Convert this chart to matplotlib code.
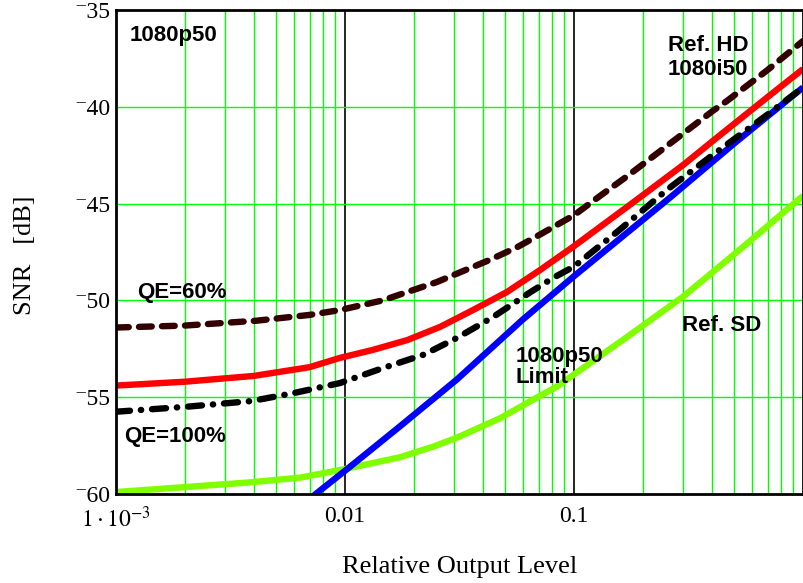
import numpy as np
import matplotlib.pyplot as plt

plt.rcParams['mathtext.fontset'] = 'stix'

# ---------------- data ----------------
hd_x = [0.001, 0.002, 0.0041, 0.007, 0.0095, 0.0146, 0.0252, 0.043, 0.0565, 0.071, 0.1, 0.13, 0.17,
        0.237, 0.405, 0.465, 0.70, 1.0]
hd_y = [-51.4, -51.3, -51.05, -50.75, -50.5, -50.0, -49.05, -47.9, -47.25, -46.6, -45.6, -44.6, -43.6,
        -42.3, -40.2, -39.7, -38.1, -36.6]

qe60_x = [0.001, 0.002, 0.004, 0.007, 0.0095, 0.0132, 0.0187, 0.026, 0.0362, 0.0509, 0.0711, 0.1,
          0.188, 0.3, 0.42, 0.7, 1.0]
qe60_y = [-54.4, -54.2, -53.9, -53.45, -52.97, -52.56, -52.05, -51.37, -50.5, -49.57, -48.43, -47.2,
          -44.8, -43.0, -41.6, -39.5, -38.05]

qe100_x = [0.001, 0.002, 0.0039, 0.0059, 0.0095, 0.0146, 0.0221, 0.0308, 0.0443, 0.064, 0.081, 0.1,
           0.158, 0.254, 0.392, 0.49, 0.70, 1.0]
qe100_y = [-55.75, -55.5, -55.2, -54.8, -54.27, -53.5, -52.8, -51.94, -50.86, -49.6, -48.84, -48.25,
           -46.36, -44.3, -42.6, -41.75, -40.4, -39.0]

lim_x = [0.0065, 0.00754, 0.0105, 0.0174, 0.0307, 0.0596, 0.1, 0.262, 0.5, 1.0]
lim_y = [-60.6, -59.95, -58.6, -56.5, -54.1, -51.0, -48.75, -44.7, -41.9, -39.0]

sd_x = [0.001, 0.00385, 0.0064, 0.0098, 0.0174, 0.0242, 0.0307, 0.0475, 0.066, 0.084, 0.17, 0.30,
        0.547, 1.0]
sd_y = [-59.9, -59.4, -59.15, -58.73, -58.1, -57.56, -57.1, -56.09, -55.14, -54.46, -51.9, -49.8,
        -47.24, -44.6]

y_ticks = [-60, -55, -50, -45, -40, -35]
x_ticks = [0.001, 0.01, 0.1]
x_tick_labels = [r'$1\cdot10^{-3}$', '0.01', '0.1']

# ---------------- drawing ----------------
fig = plt.figure(figsize=(8.04, 5.83), dpi=100)
ax = fig.add_axes([116 / 804, 1 - 494 / 583, 687 / 804, 484 / 583])
ax.set_xscale('log')
ax.set_xlim(1e-3, 1)
ax.set_ylim(-60, -35)

# grid: green minors, black decades
for dec in [1e-3, 1e-2, 1e-1]:
    for m in range(2, 10):
        ax.axvline(dec * m, color='#00ff00', lw=1.0, zorder=1)
for d in [0.01, 0.1]:
    ax.axvline(d, color='black', lw=1.2, zorder=1)
for yv in [-55, -50, -45, -40]:
    ax.axhline(yv, color='#00ff00', lw=1.0, zorder=1)

lw = 4.6
ax.plot(sd_x, sd_y, color='#80ff00', lw=lw, zorder=3, solid_capstyle='butt')
ax.plot(lim_x, lim_y, color='#0000ff', lw=lw, zorder=3, solid_capstyle='butt')
ax.plot(qe100_x, qe100_y, color='black', lw=lw, zorder=4, dashes=(2.2, 1.7, 0.05, 1.7),
        dash_capstyle='round')
ax.plot(qe60_x, qe60_y, color='#ff0000', lw=lw, zorder=4, solid_capstyle='butt')
ax.plot(hd_x, hd_y, color='#330000', lw=lw, zorder=4, dashes=(2.0, 1.6), dash_capstyle='round')

# labels on the chart
bold = dict(fontsize=16, fontweight='bold', family='Liberation Sans', va='center', ha='left')
ax.text(1.15e-3, -36.3, '1080p50', **bold)
ax.text(0.257, -37.45, 'Ref. HD\n1080i50', linespacing=1.15, **bold)
ax.text(1.235e-3, -49.6, 'QE=60%', **bold)
ax.text(1.08e-3, -57.05, 'QE=100%', **bold)
ax.text(0.0555, -53.45, '1080p50\nLimit', linespacing=1.0, **bold)
ax.text(0.297, -51.3, 'Ref. SD', **bold)

ax.set_yticks(y_ticks)
ax.set_yticklabels(['\u207b%d' % abs(v) for v in y_ticks], family=['Liberation Serif', 'DejaVu Serif'],
                   fontsize=17)
ax.set_xticks(x_ticks)
ax.set_xticklabels(x_tick_labels, family='Liberation Serif', fontsize=17)
ax.minorticks_off()
ax.tick_params(axis='y', length=0, pad=4)
ax.tick_params(axis='x', length=0, pad=9)

for s in ax.spines.values():
    s.set_linewidth(2)
    s.set_color('black')
    s.set_zorder(5)

fig.text(25 / 804, 1 - 255 / 583, 'SNR   [dB]', rotation=90, ha='center', va='center',
         family='Liberation Serif', fontsize=19)
fig.text(460 / 804, 1 - 567 / 583, 'Relative Output Level', ha='center', va='center',
         family='Liberation Serif', fontsize=19)

fig.savefig('out.png', dpi=100)
